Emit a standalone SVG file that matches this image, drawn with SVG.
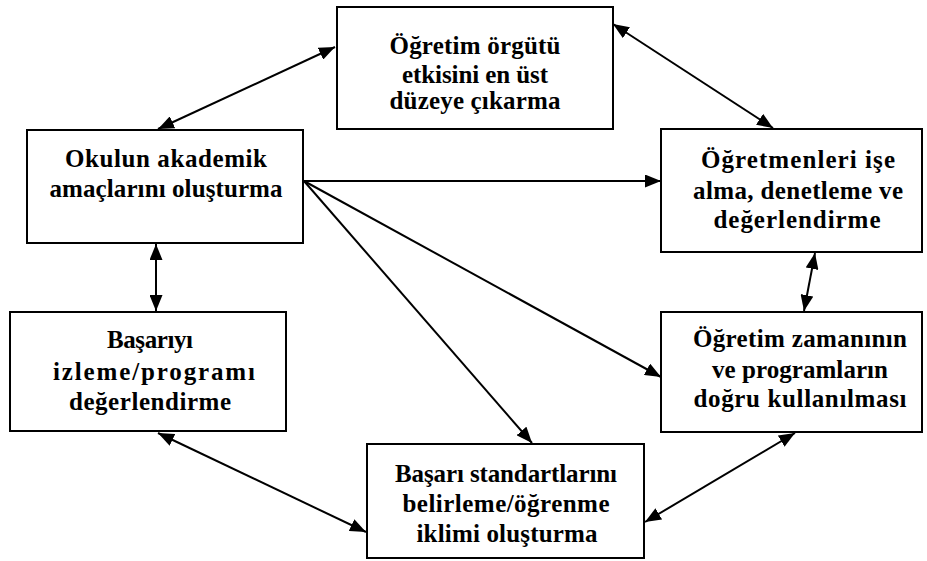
<svg xmlns="http://www.w3.org/2000/svg" width="927" height="561" viewBox="0 0 927 561">
<defs>
<marker id="ah" viewBox="0 0 16 13" refX="16" refY="6.5" markerWidth="16" markerHeight="13" markerUnits="userSpaceOnUse" orient="auto-start-reverse">
<path d="M0,0 L16,6.5 L0,13 Z" fill="#000"/>
</marker>
<style>
.box{fill:#fff;stroke:#000;stroke-width:2}
.t{font-family:"Liberation Serif","DejaVu Serif",serif;font-weight:bold;font-size:25px;fill:#000;text-anchor:middle}
.c{stroke:#000;stroke-width:2;fill:none}
.e{marker-end:url(#ah)}
.b{marker-start:url(#ah);marker-end:url(#ah)}
</style>
</defs>
<rect width="927" height="561" fill="#fff"/>
<g id="connectors">
<line class="c b" x1="335" y1="47" x2="158" y2="129"/>
<line class="c b" x1="613" y1="24" x2="773" y2="128"/>
<line class="c e" x1="304" y1="181" x2="661" y2="181"/>
<line class="c e" x1="304" y1="181" x2="661" y2="377"/>
<line class="c e" x1="304" y1="181" x2="532" y2="443"/>
<line class="c b" x1="156" y1="244" x2="156" y2="311"/>
<line class="c b" x1="815" y1="253" x2="804" y2="311"/>
<line class="c b" x1="158" y1="433" x2="366" y2="532"/>
<line class="c b" x1="795" y1="433" x2="645" y2="522"/>
</g>
<g id="n1">
<rect class="box" x="337" y="7" width="276" height="122"/>
<text class="t" x="475" y="54" textLength="171">Öğretim örgütü</text>
<text class="t" x="475" y="83" textLength="146">etkisini en üst</text>
<text class="t" x="475" y="109" textLength="171">düzeye çıkarma</text>
</g>
<g id="n2">
<rect class="box" x="27" y="130" width="276" height="113"/>
<text class="t" x="166" y="167" textLength="202">Okulun akademik</text>
<text class="t" x="166" y="197" textLength="233">amaçlarını oluşturma</text>
</g>
<g id="n3">
<rect class="box" x="661" y="129" width="261" height="123"/>
<text class="t" x="798" y="168" textLength="194">Öğretmenleri işe</text>
<text class="t" x="798" y="199" textLength="210">alma, denetleme ve</text>
<text class="t" x="797" y="228" textLength="167">değerlendirme</text>
</g>
<g id="n4">
<rect class="box" x="10" y="312" width="276" height="119"/>
<text class="t" x="150" y="348" textLength="86">Başarıyı</text>
<text class="t" x="154" y="380" textLength="202">izleme/programı</text>
<text class="t" x="150" y="410" textLength="162">değerlendirme</text>
</g>
<g id="n5">
<rect class="box" x="661" y="312" width="261" height="120"/>
<text class="t" x="800" y="347" textLength="214">Öğretim zamanının</text>
<text class="t" x="800" y="378" textLength="176">ve programların</text>
<text class="t" x="800" y="407" textLength="213">doğru kullanılması</text>
</g>
<g id="n6">
<rect class="box" x="367" y="444" width="277" height="114"/>
<text class="t" x="506" y="482" textLength="222">Başarı standartlarını</text>
<text class="t" x="506" y="512" textLength="207">belirleme/öğrenme</text>
<text class="t" x="507" y="542" textLength="181">iklimi oluşturma</text>
</g>
</svg>
